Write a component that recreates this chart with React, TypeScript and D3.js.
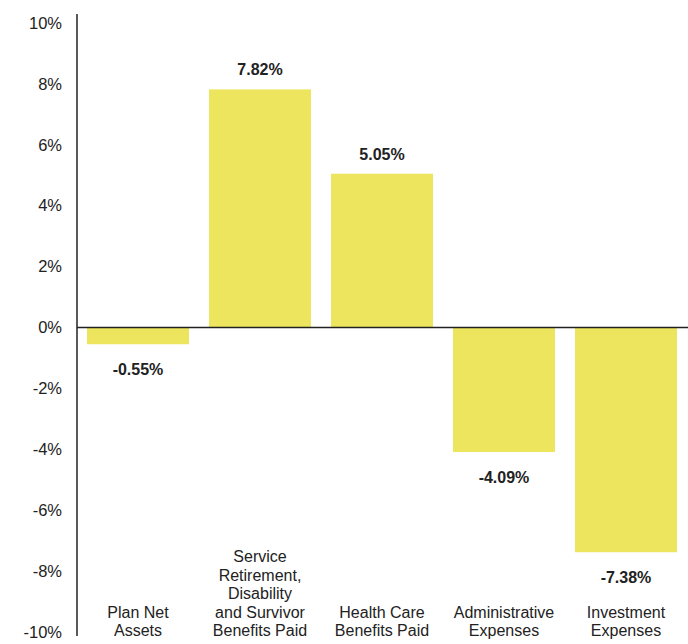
import React from "react";
import * as d3 from "d3";

const categories = [
  ["Plan Net", "Assets"],
  ["Service", "Retirement,", "Disability", "and Survivor", "Benefits Paid"],
  ["Health Care", "Benefits Paid"],
  ["Administrative", "Expenses"],
  ["Investment", "Expenses"],
];
const values = [-0.55, 7.82, 5.05, -4.09, -7.38];
const yTicks = [10, 8, 6, 4, 2, 0, -2, -4, -6, -8, -10];

const W = 688;
const H = 644;
const axisX = 77;

export default function App() {
  const y = d3.scaleLinear().domain([-10, 10]).range([632, 23]);
  const x = d3
    .scaleBand<number>()
    .domain(values.map((_, i) => i))
    .range([axisX, 687])
    .paddingInner(0.164)
    .paddingOuter(0.082);
  const fmt = (v: number) => v.toFixed(2) + "%";
  const font = "'Liberation Sans', Arial, sans-serif";

  return (
    <svg
      width={W}
      height={H}
      style={{ position: "absolute", left: 0, top: 0, background: "#fff" }}
      fontFamily={font}
    >
      {/* y tick labels */}
      {yTicks.map((t) => (
        <text
          key={t}
          x={62}
          y={y(t)}
          dy="0.35em"
          textAnchor="end"
          fontSize={16.5}
          fill="#222"
        >
          {t + "%"}
        </text>
      ))}

      {/* bars */}
      {values.map((v, i) => (
        <rect
          key={i}
          x={x(i)}
          y={y(Math.max(0, v))}
          width={x.bandwidth()}
          height={Math.abs(y(v) - y(0))}
          fill="#ede55e"
        />
      ))}

      {/* axis lines */}
      <line x1={axisX} x2={axisX} y1={14} y2={636} stroke="#222" strokeWidth={1.5} />
      <line x1={axisX} x2={W} y1={y(0)} y2={y(0)} stroke="#222" strokeWidth={1.5} />

      {/* value labels */}
      {values.map((v, i) => (
        <text
          key={i}
          x={(x(i) as number) + x.bandwidth() / 2}
          y={v >= 0 ? y(v) - 14 : y(v) + 31}
          textAnchor="middle"
          fontSize={16}
          fontWeight="bold"
          fill="#222"
        >
          {fmt(v)}
        </text>
      ))}

      {/* category labels */}
      {categories.map((lines, i) => (
        <text
          key={i}
          x={(x(i) as number) + x.bandwidth() / 2}
          textAnchor="middle"
          fontSize={16}
          fill="#222"
        >
          {lines.map((l, j) => (
            <tspan
              key={j}
              x={(x(i) as number) + x.bandwidth() / 2}
              y={636 - (lines.length - 1 - j) * 18.5}
            >
              {l}
            </tspan>
          ))}
        </text>
      ))}
    </svg>
  );
}
